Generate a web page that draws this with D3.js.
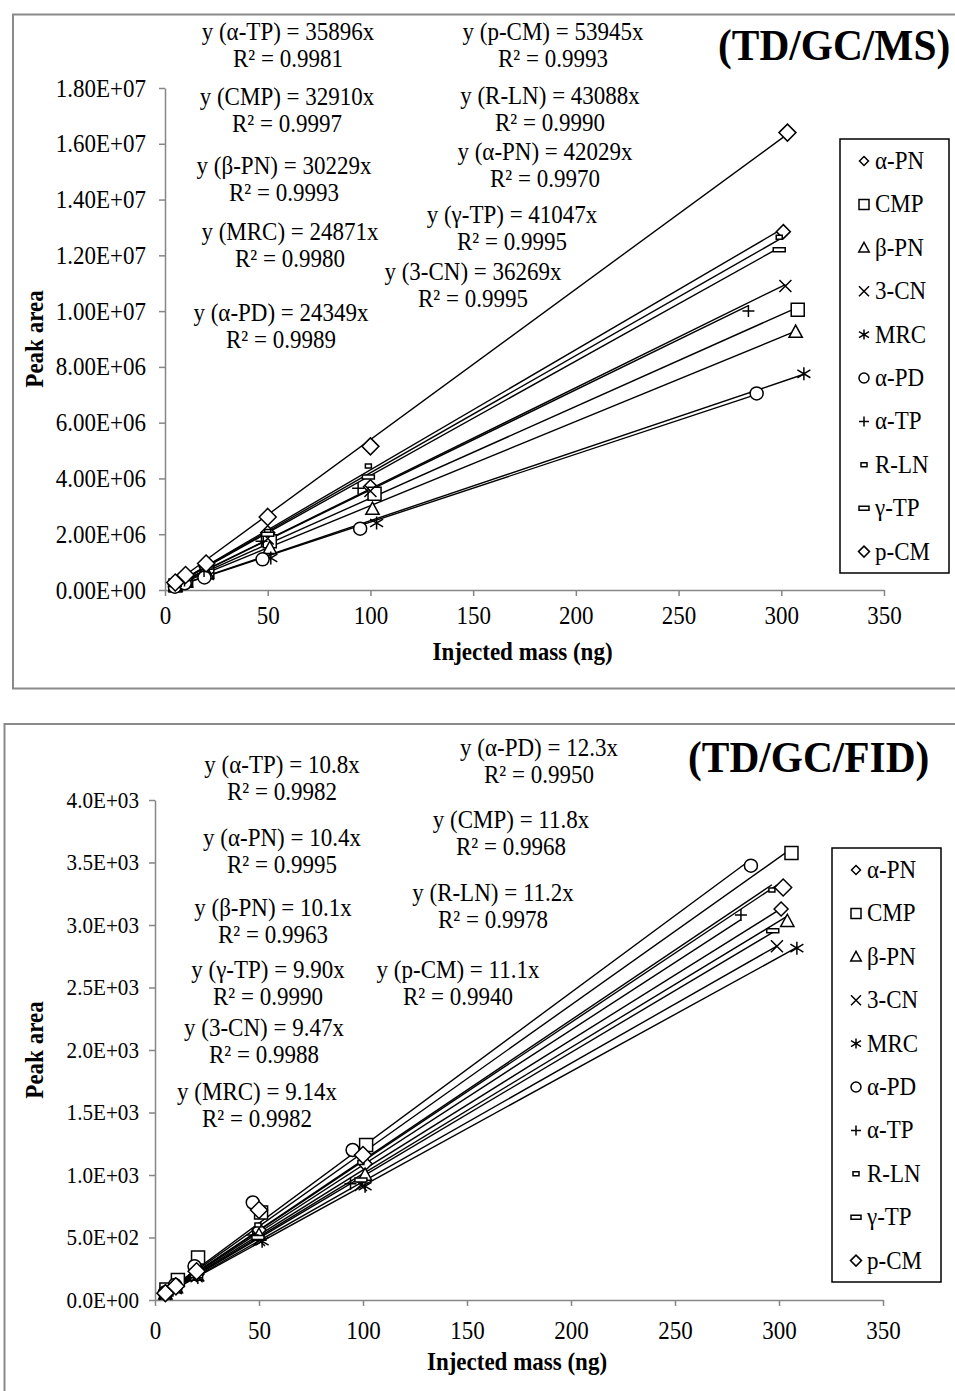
<!DOCTYPE html>
<html>
<head>
<meta charset="utf-8">
<script src="https://cdn.jsdelivr.net/npm/d3@7"></script>
<style>
  body { margin: 0; background: #fff; }
  text { font-family: "Liberation Serif", "Times New Roman", serif; fill: #000; }
  .axis path, .axis line { stroke: #868686; stroke-width: 1.5; }
  .axisLabel { font-size: 25px; font-weight: bold; }
  .title { font-size: 45px; font-weight: bold; }
  .eq { font-size: 25px; }
</style>
</head>
<body>
<div id="chart"></div>
<script>
// series names and marker shapes (same order in both charts)
var names = ["α-PN", "CMP", "β-PN", "3-CN", "MRC", "α-PD", "α-TP", "R-LN", "γ-TP", "p-CM"];
var shapes = ["diamondS", "square", "triangle", "cross", "star", "circle", "plus", "dashS", "dashL", "diamondL"];

// TD/GC/MS: injected mass (ng) and peak area
var msX = [
  [5, 10, 20, 50, 100, 301],
  [5.1, 10.3, 20.6, 51, 102, 308],
  [5.1, 10.2, 20.4, 51, 101, 307],
  [5, 10, 20, 50, 100, 302],
  [5.2, 10.3, 20.6, 51.5, 103, 311],
  [4.8, 9.6, 19.2, 47.5, 95, 288],
  [4.7, 9.5, 19, 47, 94, 284],
  [5, 10, 20, 50, 99, 299],
  [5, 10, 20, 50, 99, 299],
  [5, 10, 20, 50, 100, 303]
];
var msY = [
  [2.0e5, 4.1e5, 8.3e5, 2.05e6, 3.70e6, 1.285e7],
  [1.6e5, 3.3e5, 6.5e5, 1.75e6, 3.45e6, 1.005e7],
  [1.5e5, 3.0e5, 6.0e5, 1.50e6, 2.90e6, 9.25e6],
  [1.8e5, 3.6e5, 7.2e5, 1.85e6, 3.55e6, 1.09e7],
  [1.2e5, 2.5e5, 5.0e5, 1.15e6, 2.40e6, 7.75e6],
  [1.2e5, 2.4e5, 4.5e5, 1.10e6, 2.20e6, 7.05e6],
  [1.7e5, 3.4e5, 6.8e5, 1.75e6, 3.65e6, 1.00e7],
  [2.1e5, 4.3e5, 8.6e5, 2.10e6, 4.45e6, 1.265e7],
  [2.0e5, 4.1e5, 8.2e5, 2.00e6, 4.05e6, 1.22e7],
  [2.7e5, 5.4e5, 9.5e5, 2.62e6, 5.15e6, 1.64e7]
];
var msSlope = [42029, 32910, 30229, 36269, 24871, 24349, 35896, 43088, 41047, 53945];
var msR2 = ["0.9970", "0.9997", "0.9993", "0.9995", "0.9980", "0.9989", "0.9981", "0.9990", "0.9995", "0.9993"];
var msYTicks = [0, 2e6, 4e6, 6e6, 8e6, 1e7, 1.2e7, 1.4e7, 1.6e7, 1.8e7];

// TD/GC/FID
var fidX = [
  [5, 10, 20, 50, 101, 301],
  [5.5, 11, 20.7, 51, 101.5, 306],
  [5, 10, 20, 50, 101, 304],
  [5, 10, 20, 50, 99, 299],
  [5, 10.3, 20.6, 51.5, 101, 308.6],
  [4.8, 9.6, 19, 47, 95, 286.5],
  [4.7, 9.4, 18.8, 47, 94, 281.7],
  [5, 10, 20, 49.5, 99, 296.6],
  [5, 10, 20, 49.5, 99, 297],
  [5, 10, 20, 50, 100, 302]
];
var fidY = [
  [55, 105, 205, 560, 1090, 3128],
  [85, 160, 340, 700, 1240, 3576],
  [50, 100, 200, 520, 1000, 3030],
  [48, 95, 190, 480, 920, 2830],
  [45, 90, 180, 470, 910, 2815],
  [60, 120, 270, 780, 1200, 3475],
  [50, 100, 200, 520, 930, 3080],
  [55, 110, 220, 600, 1100, 3280],
  [50, 98, 195, 500, 960, 2955],
  [55, 110, 230, 720, 1160, 3300]
];
var fidSlope = ["10.4", "11.8", "10.1", "9.47", "9.14", "12.3", "10.8", "11.2", "9.90", "11.1"];
var fidR2 = ["0.9995", "0.9968", "0.9963", "0.9988", "0.9982", "0.9950", "0.9982", "0.9978", "0.9990", "0.9940"];
var fidYTicks = [0, 500, 1000, 1500, 2000, 2500, 3000, 3500, 4000];

var xTicks = [0, 50, 100, 150, 200, 250, 300, 350];

// equation label centres (pixels), by series index
var msEqPos = [[545, 152], [287, 97], [284, 166], [473, 272], [290, 232], [281, 313], [288, 32], [550, 96], [512, 215], [553, 32]];
var fidEqPos = [[282, 838], [511, 820], [273, 908], [264, 1028], [257, 1092], [539, 748], [282, 765], [493, 893], [268, 970], [458, 970]];

var SX = 0.92; // the reference type is a bit condensed

function fmtE(v, d) {
  if (v === 0) return (0).toFixed(d) + "E+00";
  var e = Math.floor(Math.log10(v) + 1e-9);
  var m = v / Math.pow(10, e);
  return m.toFixed(d) + "E+" + (e < 10 ? "0" : "") + e;
}

function markerPath(shape, big) {
  var r;
  switch (shape) {
    case "diamondS": r = big ? 7 : 4.5; return "M0," + -r + "L" + r + ",0L0," + r + "L" + -r + ",0Z";
    case "diamondL": r = big ? 8.5 : 5.5; return "M0," + -r + "L" + r + ",0L0," + r + "L" + -r + ",0Z";
    case "square": r = big ? 6.5 : 5; return "M" + -r + "," + -r + "H" + r + "V" + r + "H" + -r + "Z";
    case "triangle": r = big ? 7 : 5.5; return "M0," + -r + "L" + r * 0.95 + "," + r * 0.75 + "H" + -r * 0.95 + "Z";
    case "cross": r = big ? 6 : 5; return "M" + -r + "," + -r + "L" + r + "," + r + "M" + -r + "," + r + "L" + r + "," + -r;
    case "star": r = big ? 6.5 : 5; return "M" + -r + "," + -r * 0.6 + "L" + r + "," + r * 0.6 + "M" + -r + "," + r * 0.6 + "L" + r + "," + -r * 0.6 + "M0," + -r + "V" + r;
    case "circle": r = big ? 6.5 : 5; return "M" + r + ",0A" + r + "," + r + " 0 1,1 " + -r + ",0A" + r + "," + r + " 0 1,1 " + r + ",0Z";
    case "plus": r = big ? 6 : 5; return "M" + -r + ",0H" + r + "M0," + -r + "V" + r;
    case "dashS": return "M-3,-2H3V2H-3Z";
    case "dashL": return big ? "M-6,-2H6V2H-6Z" : "M-5,-2H5V2H-5Z";
  }
}

var svg = d3.select("#chart")
  .append("svg")
  .attr("width", 955)
  .attr("height", 1391);

svg.append("rect").attr("width", 955).attr("height", 1391).attr("fill", "#fff");

function addText(parent, x, y, str, cls, anchor) {
  return parent.append("text")
    .attr("class", cls)
    .attr("transform", "translate(" + x + "," + y + ") scale(" + SX + ",1)")
    .attr("text-anchor", anchor || "start")
    .text(str);
}

function drawChart(o) {
  var g = svg.append("g");

  g.append("rect")
    .attr("x", o.frame[0]).attr("y", o.frame[1])
    .attr("width", o.frame[2]).attr("height", o.frame[3])
    .attr("fill", "none").attr("stroke", "#8a8a8a").attr("stroke-width", 2);

  var x = d3.scaleLinear().domain([0, 350]).range([o.left, o.right]);
  var y = d3.scaleLinear().domain([0, o.yMax]).range([o.bottom, o.top]);

  g.append("g")
    .attr("class", "axis")
    .attr("transform", "translate(0," + o.bottom + ")")
    .call(d3.axisBottom(x).tickValues(xTicks).tickSize(6).tickSizeOuter(0).tickPadding(o.xPad))
    .selectAll("text")
    .attr("font-size", 25)
    .attr("transform", "scale(" + SX + ",1)")
    .attr("x", 0);

  g.append("g")
    .attr("class", "axis")
    .attr("transform", "translate(" + o.left + ",0)")
    .call(d3.axisLeft(y).tickValues(o.yTicks).tickSize(6).tickSizeOuter(0).tickPadding(o.yPad)
      .tickFormat(function (d) { return fmtE(d, o.digits); }))
    .selectAll("text")
    .attr("font-size", o.yFont)
    .attr("transform", "scale(" + SX + ",1)")
    .attr("x", -(6 + o.yPad) / SX);

  // trendlines through the origin
  names.forEach(function (n, i) {
    var xs = o.xs[i];
    var x0 = d3.min(xs), x1 = d3.max(xs);
    var k = +o.slopes[i];
    g.append("path")
      .attr("fill", "none")
      .attr("stroke", "#000")
      .attr("stroke-width", 1.4)
      .attr("d", d3.line()([[x(x0), y(k * x0)], [x(x1), y(k * x1)]]));
  });

  // markers
  names.forEach(function (n, i) {
    var pts = d3.zip(o.xs[i], o.ys[i]);
    g.selectAll(null)
      .data(pts)
      .enter()
      .append("path")
      .attr("transform", function (d) { return "translate(" + x(d[0]) + "," + y(d[1]) + ")"; })
      .attr("d", markerPath(shapes[i], true))
      .attr("fill", "#fff")
      .attr("stroke", "#000")
      .attr("stroke-width", 1.5);
  });

  // equations
  names.forEach(function (n, i) {
    var p = o.eqPos[i];
    addText(g, p[0], p[1] + 8, "y (" + n + ") = " + o.slopes[i] + "x", "eq", "middle");
    addText(g, p[0], p[1] + 35, "R² = " + o.r2[i], "eq", "middle");
  });

  // legend
  var lg = g.append("g");
  lg.append("rect")
    .attr("x", o.legend[0]).attr("y", o.legend[1])
    .attr("width", o.legend[2]).attr("height", o.legend[3])
    .attr("fill", "#fff").attr("stroke", "#000").attr("stroke-width", 1.5);
  names.forEach(function (n, i) {
    var cy = o.legend[1] + 22 + i * 43.4;
    lg.append("path")
      .attr("transform", "translate(" + (o.legend[0] + 24) + "," + cy + ")")
      .attr("d", markerPath(shapes[i], false))
      .attr("fill", "#fff").attr("stroke", "#000").attr("stroke-width", 1.5);
    addText(lg, o.legend[0] + 35, cy + 8, n, "eq");
  });

  addText(g, o.titlePos[0], o.titlePos[1], o.title, "title");

  addText(g, (o.left + o.right) / 2 - 2, o.bottom + 70, "Injected mass (ng)", "axisLabel", "middle");

  g.append("text").attr("class", "axisLabel")
    .attr("transform", "translate(43," + (o.top + o.bottom) / 2 + ") rotate(-90) scale(" + SX + ",1)")
    .attr("text-anchor", "middle")
    .text("Peak area");
}

drawChart({
  frame: [13, 14.5, 960, 674],
  left: 165, right: 884, top: 88, bottom: 590,
  yMax: 1.8e7, yTicks: msYTicks, digits: 2, xPad: 10, yPad: 13, yFont: 25,
  xs: msX, ys: msY, slopes: msSlope, r2: msR2, eqPos: msEqPos,
  legend: [840, 139, 109, 434],
  title: "(TD/GC/MS)", titlePos: [718, 60]
});

drawChart({
  frame: [4.5, 724, 960, 700],
  left: 155, right: 883, top: 800, bottom: 1300,
  yMax: 4000, yTicks: fidYTicks, digits: 1, xPad: 15, yPad: 10, yFont: 23,
  xs: fidX, ys: fidY, slopes: fidSlope, r2: fidR2, eqPos: fidEqPos,
  legend: [832, 848, 109, 434],
  title: "(TD/GC/FID)", titlePos: [688, 772]
});
</script>
</body>
</html>
